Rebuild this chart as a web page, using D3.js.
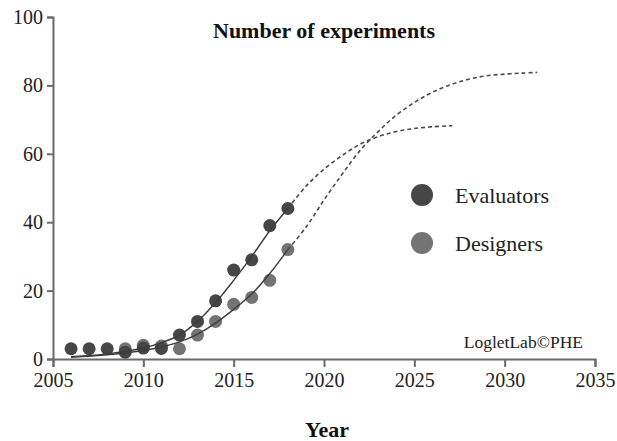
<!DOCTYPE html>
<html lang="en">
<head>
    <meta charset="UTF-8">
    <title>Number of experiments</title>
    <script src="https://d3js.org/d3.v7.min.js"></script>
    <style>
        body { margin: 0; background: #fff; }
        svg text { font-family: "Liberation Serif", "DejaVu Serif", serif; }
        .axis path, .axis line { stroke: #6a6a6a; stroke-width: 2px; }
        .axis text { font-size: 20px; fill: #222; }
        .fit { fill: none; stroke: #3c3c3c; stroke-width: 1.4px; }
        .forecast { fill: none; stroke: #4a4a4a; stroke-width: 1.6px; stroke-dasharray: 4,3; }
    </style>
</head>
<body>
<svg id="chart" width="617" height="441"></svg>
<script>
    // observed points
    const evalYears = [2006, 2007, 2008, 2009, 2010, 2011, 2012, 2013, 2014, 2015, 2016, 2017, 2018];
    const evalValues = [3, 3, 3, 2, 3.2, 3.1, 7, 11, 17, 26, 29, 39, 44];
    const desYears = [2009, 2010, 2011, 2012, 2013, 2014, 2015, 2016, 2017, 2018];
    const desValues = [3, 4, 3.8, 3, 7, 11, 16, 18, 23, 32];

    // fitted curves (solid up to 2018, dashed after)
    const evalFitYears = [2006, 2008, 2010, 2011, 2012, 2013, 2014, 2015, 2016, 2017, 2018];
    const evalFitValues = [0.7, 1.5, 3.2, 4.8, 7, 11, 16.5, 23, 30, 37.5, 44];
    const evalForeYears = [2018, 2019, 2020, 2021, 2022, 2023, 2024, 2025, 2026, 2027.1];
    const evalForeValues = [44, 50.5, 55.5, 59.5, 62.8, 65, 66.5, 67.4, 67.9, 68.2];

    const desFitYears = [2006, 2008, 2010, 2011, 2012, 2013, 2014, 2015, 2016, 2017, 2018];
    const desFitValues = [0.5, 1.2, 2.5, 3.5, 5, 7.3, 10.5, 14.5, 19, 25, 32];
    const desForeYears = [2018, 2019, 2020, 2021, 2022, 2023, 2024, 2025, 2026, 2027, 2028, 2029, 2030, 2031, 2031.8];
    const desForeValues = [32, 38.5, 46.5, 54, 61, 66.5, 71.3, 75, 78, 80.2, 81.8, 82.8, 83.3, 83.6, 83.8];

    const xTicks = [2005, 2010, 2015, 2020, 2025, 2030, 2035];
    const yTicks = [0, 20, 40, 60, 80, 100];

    const seriesNames = ["Evaluators", "Designers"];
    const seriesColors = ["#464646", "#747474"];

    const svg = d3.select("#chart");

    const x = d3.scaleLinear().domain([2005, 2035]).range([53, 595]);
    const y = d3.scaleLinear().domain([0, 100]).range([359, 17]);

    // axes
    svg.append("g")
        .attr("class", "axis")
        .attr("transform", "translate(0,359)")
        .call(d3.axisBottom(x).tickValues(xTicks).tickFormat(d3.format("d")).tickSize(8).tickSizeOuter(8).tickPadding(6));

    svg.append("g")
        .attr("class", "axis")
        .attr("transform", "translate(53,0)")
        .call(d3.axisLeft(y).tickValues(yTicks).tickSize(6).tickSizeOuter(6).tickPadding(4));

    svg.selectAll(".axis").attr("font-family", null).attr("font-size", null);

    const line = d3.line()
        .x(d => x(d[0]))
        .y(d => y(d[1]))
        .curve(d3.curveCatmullRom);

    const zip = (a, b) => a.map((v, i) => [v, b[i]]);

    // points (designers under evaluators)
    svg.append("g").selectAll("circle")
        .data(zip(desYears, desValues))
        .enter().append("circle")
        .attr("cx", d => x(d[0]))
        .attr("cy", d => y(d[1]))
        .attr("r", 6.5)
        .attr("fill", seriesColors[1]);

    svg.append("g").selectAll("circle")
        .data(zip(evalYears, evalValues))
        .enter().append("circle")
        .attr("cx", d => x(d[0]))
        .attr("cy", d => y(d[1]))
        .attr("r", 6.5)
        .attr("fill", seriesColors[0]);

    // fitted lines
    svg.append("path").attr("class", "fit").attr("d", line(zip(evalFitYears, evalFitValues)));
    svg.append("path").attr("class", "fit").attr("d", line(zip(desFitYears, desFitValues)));
    svg.append("path").attr("class", "forecast").attr("d", line(zip(evalForeYears, evalForeValues)));
    svg.append("path").attr("class", "forecast").attr("d", line(zip(desForeYears, desForeValues)));

    // title
    svg.append("text")
        .attr("x", 324)
        .attr("y", 38)
        .attr("text-anchor", "middle")
        .attr("font-size", "22px")
        .attr("font-weight", "bold")
        .attr("fill", "#111")
        .text("Number of experiments");

    // legend
    seriesNames.forEach((name, i) => {
        svg.append("circle")
            .attr("cx", 422)
            .attr("cy", 195 + i * 48)
            .attr("r", 11)
            .attr("fill", seriesColors[i]);
        svg.append("text")
            .attr("x", 455)
            .attr("y", 203 + i * 48)
            .attr("font-size", "22px")
            .attr("fill", "#222")
            .text(name);
    });

    // watermark
    svg.append("text")
        .attr("x", 583)
        .attr("y", 348)
        .attr("text-anchor", "end")
        .attr("font-size", "17.5px")
        .attr("fill", "#222")
        .text("LogletLab©PHE");

    // x label
    svg.append("text")
        .attr("x", 327)
        .attr("y", 437)
        .attr("text-anchor", "middle")
        .attr("font-size", "22px")
        .attr("font-weight", "bold")
        .attr("fill", "#111")
        .text("Year");
</script>
</body>
</html>
